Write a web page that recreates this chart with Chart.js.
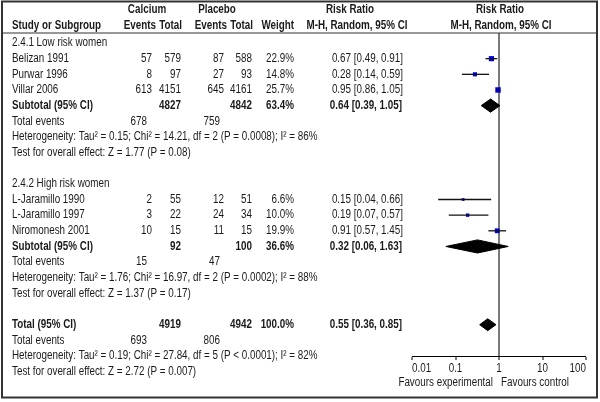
<!DOCTYPE html>
<html><head><meta charset="utf-8">
<script src="https://cdn.jsdelivr.net/npm/chart.js@4.4.1/dist/chart.umd.min.js"></script>
<style>html,body{margin:0;padding:0;background:#fff}canvas{display:block}</style>
</head><body>
<canvas id="c" width="600" height="402"></canvas>
<script>
// ---------- data ----------
const groupNames = ['2.4.1 Low risk women', '2.4.2 High risk women'];
const studies = ['Belizan 1991', 'Purwar 1996', 'Villar 2006', 'L-Jaramillo 1990', 'L-Jaramillo 1997', 'Niromonesh 2001'];
const studyGroup = [0, 0, 0, 1, 1, 1];
const calEvents = [57, 8, 613, 2, 3, 10];
const calTotal = [579, 97, 4151, 55, 22, 15];
const plaEvents = [87, 27, 645, 12, 24, 11];
const plaTotal = [588, 93, 4161, 51, 34, 15];
const weights = [22.9, 14.8, 25.7, 6.6, 10.0, 19.9];
const rrEst = [0.67, 0.28, 0.95, 0.15, 0.19, 0.91];
const rrLo = [0.49, 0.14, 0.86, 0.04, 0.07, 0.57];
const rrHi = [0.91, 0.59, 1.05, 0.66, 0.57, 1.45];

const subCalTotal = [4827, 92];
const subPlaTotal = [4842, 100];
const subWeight = ['63.4%', '36.6%'];
const subCalEvents = [678, 15];
const subPlaEvents = [759, 47];
const subEst = [0.64, 0.32];
const subLo = [0.39, 0.06];
const subHi = [1.05, 1.63];
const subHet = ['Heterogeneity: Tau\u00b2 = 0.15; Chi\u00b2 = 14.21, df = 2 (P = 0.0008); I\u00b2 = 86%',
                'Heterogeneity: Tau\u00b2 = 1.76; Chi\u00b2 = 16.97, df = 2 (P = 0.0002); I\u00b2 = 88%'];
const subTest = ['Test for overall effect: Z = 1.77 (P = 0.08)', 'Test for overall effect: Z = 1.37 (P = 0.17)'];

const totCalTotal = 4919, totPlaTotal = 4942, totWeight = '100.0%';
const totCalEvents = 693, totPlaEvents = 806;
const totEst = 0.55, totLo = 0.36, totHi = 0.85;
const totHet = 'Heterogeneity: Tau\u00b2 = 0.19; Chi\u00b2 = 27.84, df = 5 (P < 0.0001); I\u00b2 = 82%';
const totTest = 'Test for overall effect: Z = 2.72 (P = 0.007)';

const tickValues = [0.01, 0.1, 1, 10, 100];
const tickLabels = ['0.01', '0.1', '1', '10', '100'];
const favourLabels = ['Favours experimental', 'Favours control'];

// ---------- font detection ----------
function hasFont(name) {
  const c = document.createElement('canvas').getContext('2d');
  const s = 'Heterogeneity: Tau 0123456789 WMmwil';
  c.font = '40px monospace'; const a = c.measureText(s).width;
  c.font = '40px "' + name + '", monospace'; const b = c.measureText(s).width;
  return Math.abs(a - b) > 0.5;
}
let FAMILY = '"Liberation Sans", Arial, sans-serif', SQUEEZE = 0.82;
for (const f of ['Liberation Sans Narrow', 'Arial Narrow']) {
  if (hasFont(f)) { FAMILY = '"' + f + '", "Liberation Sans", sans-serif'; SQUEEZE = 1; break; }
}
const TEXT = '#1a1a1a';
function txt(ctx, s, x, y, align, bold) {
  ctx.save();
  ctx.font = (bold ? 'bold ' : '') + '12px ' + FAMILY;
  ctx.fillStyle = TEXT;
  ctx.textBaseline = 'middle';
  ctx.textAlign = align || 'left';
  ctx.translate(x, y);
  ctx.scale(SQUEEZE, 1);
  ctx.fillText(String(s), 0, 0);
  ctx.restore();
}

// ---------- row layout ----------
const rows = [];
let r = 0;
const studyRow = [], subRow = [];
groupNames.forEach((g, gi) => {
  rows.push({kind: 'group', r: r++, gi});
  studies.forEach((s, i) => { if (studyGroup[i] === gi) { studyRow[i] = r; rows.push({kind: 'study', r: r++, i}); } });
  subRow[gi] = r;
  rows.push({kind: 'sub', r: r++, gi});
  rows.push({kind: 'events', r: r++, gi});
  rows.push({kind: 'het', r: r++, gi});
  rows.push({kind: 'test', r: r++, gi});
  r++;
});
const totRow = r;
rows.push({kind: 'tot', r: r++});
rows.push({kind: 'totevents', r: r++});
rows.push({kind: 'tothet', r: r++});
rows.push({kind: 'tottest', r: r++});

// ---------- datasets ----------
const datasets = [];
studies.forEach((s, i) => {
  datasets.push({type: 'line', data: [{x: rrLo[i], y: studyRow[i]}, {x: rrHi[i], y: studyRow[i]}],
    borderColor: '#111', borderWidth: 1.3, pointRadius: 0, fill: false});
});
datasets.push({type: 'scatter', data: studies.map((s, i) => ({x: rrEst[i], y: studyRow[i]})),
  pointStyle: 'rect', pointRadius: weights.map(w => Math.sqrt(w) * 1.08 / Math.SQRT2),
  backgroundColor: '#0000e6', borderWidth: 0, pointHoverRadius: 0});
function diamond(lo, est, hi, row, h) {
  return {type: 'line', data: [{x: lo, y: row}, {x: est, y: row - h}, {x: hi, y: row}, {x: est, y: row + h}, {x: lo, y: row}],
    borderColor: '#000', backgroundColor: '#000', borderWidth: 1, fill: 'shape', pointRadius: 0, tension: 0};
}
groupNames.forEach((g, gi) => datasets.push(diamond(subLo[gi], subEst[gi], subHi[gi], subRow[gi], 0.42)));
datasets.push(diamond(totLo, totEst, totHi, totRow, 0.38));

// ---------- table plugin ----------
const table = {
  id: 'table',
  beforeDraw(chart) {
    const ctx = chart.ctx;
    ctx.save(); ctx.fillStyle = '#fff'; ctx.fillRect(0, 0, chart.width, chart.height); ctx.restore();
  },
  afterDraw(chart) {
    const ctx = chart.ctx, ys = chart.scales.y, xs = chart.scales.x;
    const Y = v => ys.getPixelForValue(v);
    // frame + header rule
    ctx.save();
    ctx.strokeStyle = '#333'; ctx.lineWidth = 2;
    ctx.strokeRect(2, 1.5, 595, 396);
    ctx.lineWidth = 1.2;
    ctx.beginPath(); ctx.moveTo(2, 33); ctx.lineTo(597, 33); ctx.stroke();
    ctx.restore();
    // headers
    txt(ctx, 'Calcium', 147, 10, 'center', true);
    txt(ctx, 'Placebo', 217, 10, 'center', true);
    txt(ctx, 'Risk Ratio', 350, 10, 'center', true);
    txt(ctx, 'Risk Ratio', 500, 10, 'center', true);
    txt(ctx, 'Study or Subgroup', 12, 25.5, 'left', true);
    txt(ctx, 'Events', 156, 25.5, 'right', true);
    txt(ctx, 'Total', 182, 25.5, 'right', true);
    txt(ctx, 'Events', 227, 25.5, 'right', true);
    txt(ctx, 'Total', 253, 25.5, 'right', true);
    txt(ctx, 'Weight', 294, 25.5, 'right', true);
    txt(ctx, 'M-H, Random, 95% CI', 357, 25.5, 'center', true);
    txt(ctx, 'M-H, Random, 95% CI', 501, 25.5, 'center', true);
    const ci = (e, l, h) => e.toFixed(2) + ' [' + l.toFixed(2) + ', ' + h.toFixed(2) + ']';
    rows.forEach(row => {
      const y = Y(row.r);
      switch (row.kind) {
        case 'group': txt(ctx, groupNames[row.gi], 12, y); break;
        case 'study': {
          const i = row.i;
          txt(ctx, studies[i], 12, y);
          txt(ctx, calEvents[i], 152, y, 'right');
          txt(ctx, calTotal[i], 181, y, 'right');
          txt(ctx, plaEvents[i], 224, y, 'right');
          txt(ctx, plaTotal[i], 252, y, 'right');
          txt(ctx, weights[i].toFixed(1) + '%', 294, y, 'right');
          txt(ctx, ci(rrEst[i], rrLo[i], rrHi[i]), 403, y, 'right');
          break; }
        case 'sub': {
          const g = row.gi;
          txt(ctx, 'Subtotal (95% CI)', 12, y, 'left', true);
          txt(ctx, subCalTotal[g], 181, y, 'right', true);
          txt(ctx, subPlaTotal[g], 252, y, 'right', true);
          txt(ctx, subWeight[g], 294, y, 'right', true);
          txt(ctx, ci(subEst[g], subLo[g], subHi[g]), 402, y, 'right', true);
          break; }
        case 'events':
          txt(ctx, 'Total events', 12, y);
          txt(ctx, subCalEvents[row.gi], 147, y, 'right');
          txt(ctx, subPlaEvents[row.gi], 220, y, 'right');
          break;
        case 'het': txt(ctx, subHet[row.gi], 12, y); break;
        case 'test': txt(ctx, subTest[row.gi], 12, y); break;
        case 'tot':
          txt(ctx, 'Total (95% CI)', 12, y, 'left', true);
          txt(ctx, totCalTotal, 181, y, 'right', true);
          txt(ctx, totPlaTotal, 252, y, 'right', true);
          txt(ctx, totWeight, 294, y, 'right', true);
          txt(ctx, ci(totEst, totLo, totHi), 402, y, 'right', true);
          break;
        case 'totevents':
          txt(ctx, 'Total events', 12, y);
          txt(ctx, totCalEvents, 147, y, 'right');
          txt(ctx, totPlaEvents, 220, y, 'right');
          break;
        case 'tothet': txt(ctx, totHet, 12, y); break;
        case 'tottest': txt(ctx, totTest, 12, y); break;
      }
    });
    // axis tick labels (end labels kept inside the axis) and favour labels
    const base = chart.chartArea.bottom;
    const last = tickValues.length - 1;
    tickValues.forEach((v, i) => txt(ctx, tickLabels[i], xs.getPixelForValue(v), base + 13,
      i === 0 ? 'left' : (i === last ? 'right' : 'center')));
    const x1 = xs.getPixelForValue(1);
    txt(ctx, favourLabels[0], x1 - 6, base + 27, 'right');
    txt(ctx, favourLabels[1], x1 + 2, base + 27, 'left');
  }
};

new Chart(document.getElementById('c'), {
  type: 'scatter',
  data: {datasets},
  options: {
    responsive: false,
    devicePixelRatio: 1,
    animation: false,
    events: [],
    layout: {padding: {left: 412, right: 14, top: 33, bottom: 42}},
    plugins: {legend: {display: false}, tooltip: {enabled: false}},
    scales: {
      x: {
        type: 'logarithmic', min: 0.01, max: 100,
        afterBuildTicks: s => { s.ticks = tickValues.map(v => ({value: v})); },
        ticks: {display: false},
        grid: {
          drawOnChartArea: true, drawTicks: true, tickLength: 4, tickColor: '#000', tickWidth: 1,
          color: c => (c.tick && c.tick.value === 1) ? '#7a7a7a' : 'rgba(0,0,0,0)',
          lineWidth: c => (c.tick && c.tick.value === 1) ? 2 : 0
        },
        border: {display: true, color: '#000', width: 1}
      },
      y: {type: 'linear', reverse: true, min: -0.64, max: 20, display: false}
    }
  },
  plugins: [table]
});
</script>
</body></html>
